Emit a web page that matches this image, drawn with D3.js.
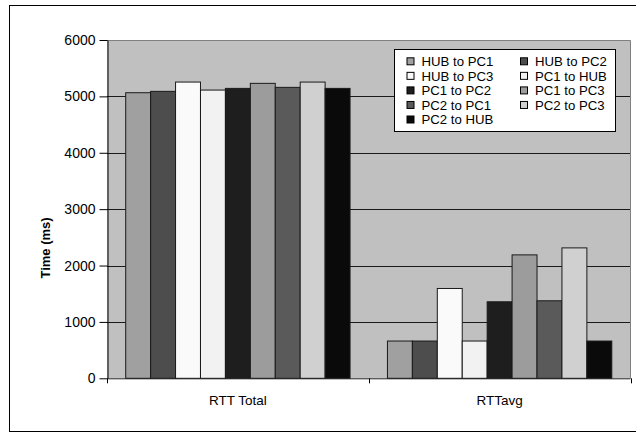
<!DOCTYPE html>
<html>
<head>
<meta charset="utf-8">
<script src="https://cdn.jsdelivr.net/npm/d3@7"></script>
<style>
  html, body { margin: 0; padding: 0; background: #fff; }
  svg text { font-family: Arial, "Liberation Sans", sans-serif; fill: #000; }
</style>
</head>
<body>
<svg id="chart" width="636" height="432"></svg>
<script>
// Round-trip times between hub and PCs
const categories = ["RTT Total", "RTTavg"];
const seriesNames = [
  "HUB to PC1", "HUB to PC2", "HUB to PC3", "PC1 to HUB", "PC1 to PC2",
  "PC1 to PC3", "PC2 to PC1", "PC2 to PC3", "PC2 to HUB"
];
const rttTotal = [5065, 5089, 5254, 5112, 5142, 5231, 5160, 5254, 5142];
const rttAvg   = [661, 661, 1593, 661, 1357, 2189, 1375, 2313, 661];
const seriesColors = [
  "#a0a0a0", "#4d4d4d", "#fafafa", "#f2f2f2", "#1e1e1e",
  "#9c9c9c", "#5a5a5a", "#d0d0d0", "#0a0a0a"
];
const yTicks = [0, 1000, 2000, 3000, 4000, 5000, 6000];

const valuesByCategory = [rttTotal, rttAvg];
const FONT = "Arial, 'Liberation Sans', sans-serif";

const svg = d3.select("#chart");
const plot = { left: 107, right: 630.5, top: 40, bottom: 378.3 };

// outer chart frame
svg.append("rect")
  .attr("x", 9.5).attr("y", 5.5)
  .attr("width", 640).attr("height", 426)
  .attr("fill", "#fff").attr("stroke", "#000").attr("stroke-width", 1);

const x0 = d3.scaleBand().domain(categories).range([plot.left, plot.right]);
const x1 = d3.scaleBand().domain(seriesNames)
  .range([0, x0.bandwidth()]).paddingInner(0).paddingOuter(0.75);
const y = d3.scaleLinear().domain([0, 6000]).range([plot.bottom, plot.top]);

// plot background
svg.append("rect")
  .attr("x", plot.left).attr("y", plot.top)
  .attr("width", plot.right - plot.left).attr("height", plot.bottom - plot.top)
  .attr("fill", "#c0c0c0");

// gridlines
svg.append("g").selectAll("line")
  .data(yTicks.filter(t => t > 0 && t < 6000))
  .join("line")
  .attr("x1", plot.left).attr("x2", plot.right)
  .attr("y1", d => Math.round(y(d)) + 0.5).attr("y2", d => Math.round(y(d)) + 0.5)
  .attr("stroke", "#1a1a1a").attr("stroke-width", 1);

// plot border top and right
svg.append("path")
  .attr("d", `M${plot.left},${plot.top + 0.5}H${plot.right}V${plot.bottom}`)
  .attr("fill", "none").attr("stroke", "#808080").attr("stroke-width", 1);

// bars
const groups = svg.append("g").selectAll("g")
  .data(categories)
  .join("g")
  .attr("transform", d => `translate(${x0(d)},0)`);

groups.selectAll("rect")
  .data((c, ci) => seriesNames.map((s, si) => ({ s, si, v: valuesByCategory[ci][si] })))
  .join("rect")
  .attr("x", d => x1(d.s))
  .attr("y", d => y(d.v))
  .attr("width", x1.bandwidth())
  .attr("height", d => y(0) - y(d.v))
  .attr("fill", d => seriesColors[d.si])
  .attr("stroke", "#1a1a1a").attr("stroke-width", 1);

// y axis
const yAxis = d3.axisLeft(y).tickValues(yTicks).tickFormat(d3.format("d"))
  .tickSize(8).tickSizeOuter(0).tickPadding(4);
const gy = svg.append("g").attr("transform", `translate(${plot.left + 0.5},0)`).call(yAxis);
gy.attr("font-family", FONT);
gy.select(".domain").attr("stroke", "#000");
gy.selectAll(".tick line").attr("stroke", "#000");
gy.selectAll("text").attr("font-size", 14).attr("fill", "#000");

// x axis
const xAxis = d3.axisBottom(x0).tickSize(0).tickPadding(17);
const gx = svg.append("g").attr("transform", `translate(0,${plot.bottom})`).call(xAxis);
gx.attr("font-family", FONT);
gx.select(".domain").attr("stroke", "#222").attr("d", `M${plot.left},0.5H${plot.right}`);
gx.selectAll("text").attr("font-size", 13.5).attr("fill", "#000");
// category boundary ticks
gx.append("g").selectAll("line")
  .data([plot.left, plot.left + x0.bandwidth(), plot.right])
  .join("line")
  .attr("x1", d => Math.round(d) + 0.5).attr("x2", d => Math.round(d) + 0.5)
  .attr("y1", 0).attr("y2", 5)
  .attr("stroke", "#000");

// y axis title
svg.append("text")
  .attr("transform", "translate(50,248) rotate(-90)")
  .attr("text-anchor", "middle")
  .attr("font-size", 13).attr("font-weight", "bold")
  .text("Time (ms)");

// legend
const legend = svg.append("g");
legend.append("rect")
  .attr("x", 394.5).attr("y", 49.5).attr("width", 221).attr("height", 82)
  .attr("fill", "#fff").attr("stroke", "#000").attr("stroke-width", 1);

const items = legend.selectAll("g.item")
  .data(seriesNames)
  .join("g")
  .attr("class", "item")
  .attr("transform", (d, i) => `translate(${i % 2 === 0 ? 406.5 : 520}, ${61.3 + Math.floor(i / 2) * 14.55})`);

items.append("rect")
  .attr("x", 0.5).attr("y", -3.5).attr("width", 7).attr("height", 7)
  .attr("fill", (d, i) => seriesColors[i]).attr("stroke", "#000").attr("stroke-width", 1);

items.append("text")
  .attr("x", 15).attr("y", 0).attr("dy", "0.36em")
  .attr("font-size", 13.2)
  .text(d => d);
</script>
</body>
</html>
